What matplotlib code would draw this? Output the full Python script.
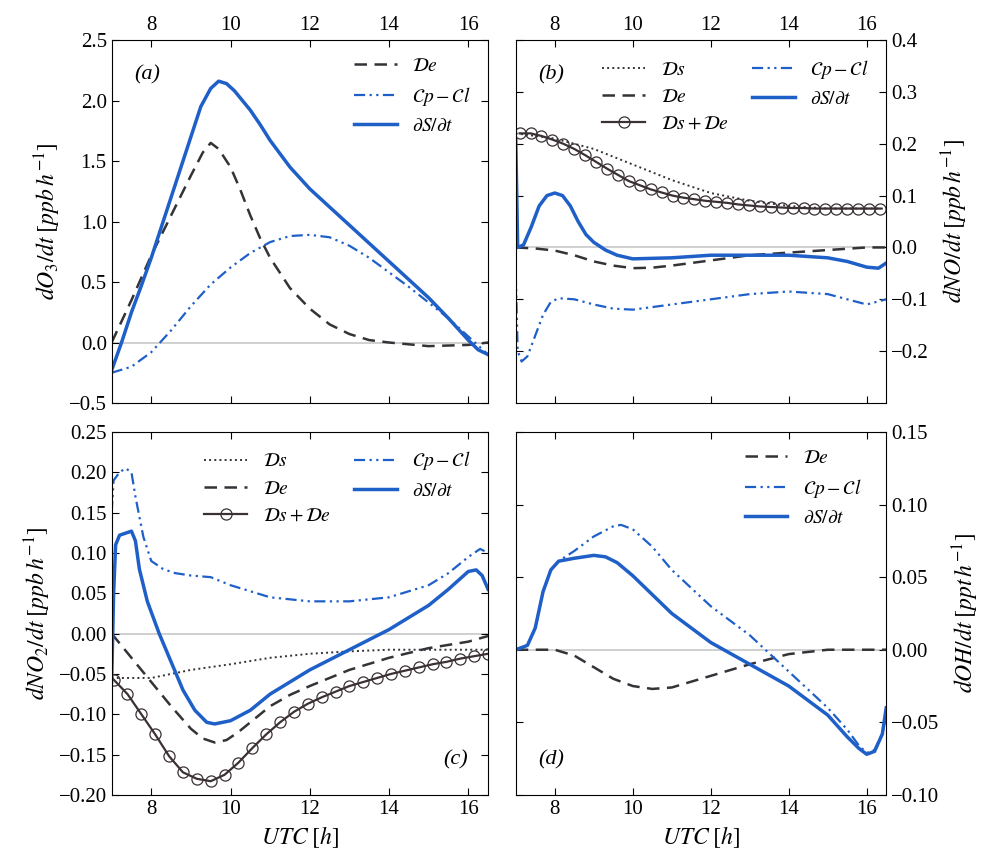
import numpy as np
import matplotlib
matplotlib.use("Agg")
import matplotlib.pyplot as plt

plt.rcParams['font.family'] = ['Liberation Serif', 'DejaVu Serif']
plt.rcParams['mathtext.fontset'] = 'stix'
plt.rcParams['font.size'] = 15

# ---- panel a (O3) ----
a_de_x = [7, 7.5, 8, 8.5, 9, 9.3, 9.5, 9.7, 10, 10.25, 10.5, 10.75, 11, 11.5, 12, 12.5, 13, 13.5, 14, 15, 16, 16.5]
a_de_y = [0.0, 0.35, 0.72, 1.05, 1.38, 1.57, 1.65, 1.6, 1.45, 1.26, 1.05, 0.86, 0.7, 0.45, 0.28, 0.15, 0.07, 0.02, 0.0, -0.03, -0.02, 0.0]
a_cp_x = [7, 7.5, 8, 8.5, 9, 9.5, 10, 10.5, 11, 11.5, 12, 12.5, 13, 13.5, 14, 14.5, 15, 15.5, 16, 16.5]
a_cp_y = [-0.25, -0.2, -0.08, 0.1, 0.3, 0.48, 0.62, 0.74, 0.83, 0.88, 0.89, 0.87, 0.8, 0.7, 0.58, 0.46, 0.33, 0.2, 0.05, -0.1]
a_ds_x = [7, 7.25, 7.5, 7.75, 8, 8.25, 8.5, 8.75, 9, 9.25, 9.5, 9.7, 9.9, 10.1, 10.3, 10.5, 10.75, 11, 11.5, 12, 12.5, 13,
          13.5, 14, 14.5, 15, 15.5, 16, 16.25, 16.5]
a_ds_y = [-0.23, 0.0, 0.25, 0.47, 0.7, 0.95, 1.2, 1.45, 1.7, 1.95, 2.1, 2.16, 2.14, 2.08, 2.0, 1.92, 1.8, 1.67, 1.45, 1.27,
          1.12, 0.97, 0.82, 0.67, 0.52, 0.37, 0.2, 0.02, -0.06, -0.1]

# ---- panel b (NO) ----
b_ds_x = [7, 8, 9, 10, 11, 12, 13, 14, 15, 16, 16.5]
b_ds_y = [0.22, 0.21, 0.19, 0.16, 0.13, 0.105, 0.09, 0.08, 0.075, 0.075, 0.075]
b_de_x = [7, 7.5, 8, 8.5, 9, 9.5, 10, 10.5, 11, 12, 13, 14, 15, 16, 16.5]
b_de_y = [0.0, -0.002, -0.006, -0.015, -0.027, -0.035, -0.04, -0.039, -0.035, -0.025, -0.015, -0.01, -0.005, 0.0, 0.0]
b_sum_x = [7.1, 7.38, 7.66, 7.94, 8.22, 8.5, 8.78, 9.06, 9.34, 9.62, 9.9, 10.18, 10.46, 10.74, 11.02, 11.3, 11.58,
           11.86, 12.14, 12.42, 12.7, 12.98, 13.26, 13.54, 13.82, 14.1, 14.38, 14.66, 14.94, 15.22, 15.5, 15.78, 16.06, 16.34]
b_sum_y = [0.22, 0.22, 0.215, 0.208, 0.2, 0.19, 0.178, 0.165, 0.152, 0.14, 0.128, 0.12, 0.112, 0.106, 0.1, 0.096, 0.093,
           0.09, 0.088, 0.086, 0.083, 0.081, 0.079, 0.078, 0.077, 0.076, 0.076, 0.075, 0.075, 0.075, 0.075, 0.075, 0.075, 0.075]
b_cp_x = [7, 7.05, 7.15, 7.3, 7.5, 7.7, 7.9, 8.1, 8.5, 9, 9.5, 10, 11, 12, 13, 14, 15, 16, 16.5]
b_cp_y = [-0.05, -0.2, -0.22, -0.21, -0.17, -0.13, -0.105, -0.098, -0.1, -0.11, -0.118, -0.12, -0.11, -0.1, -0.09, -0.085, -0.09, -0.11, -0.1]
b_dsdt_x = [7, 7.05, 7.2, 7.4, 7.6, 7.8, 8.0, 8.2, 8.4, 8.6, 8.8, 9.0, 9.3, 9.6, 10, 11, 12, 13, 14, 15, 15.5, 16, 16.3, 16.5]
b_dsdt_y = [0.21, 0.0, 0.005, 0.04, 0.08, 0.1, 0.105, 0.1, 0.08, 0.05, 0.025, 0.01, -0.005, -0.015, -0.022, -0.02, -0.015,
            -0.015, -0.015, -0.02, -0.027, -0.038, -0.04, -0.03]

# ---- panel c (NO2) ----
c_ds_x = [7, 8, 9, 10, 11, 12, 13, 14, 15, 16, 16.5]
c_ds_y = [-0.055, -0.055, -0.045, -0.038, -0.03, -0.025, -0.022, -0.02, -0.02, -0.02, -0.02]
c_de_x = [7, 7.5, 8, 8.5, 9, 9.3, 9.6, 9.9, 10.2, 10.5, 11, 11.5, 12, 13, 14, 15, 16, 16.5]
c_de_y = [0.0, -0.03, -0.06, -0.09, -0.118, -0.13, -0.135, -0.132, -0.122, -0.11, -0.09, -0.076, -0.065, -0.045, -0.03, -0.018, -0.01, -0.003]
c_sum_x = [7.05, 7.4, 7.75, 8.1, 8.45, 8.8, 9.15, 9.5, 9.85, 10.2, 10.55, 10.9, 11.25, 11.6, 11.95, 12.3, 12.65, 13.0,
           13.35, 13.7, 14.05, 14.4, 14.75, 15.1, 15.45, 15.8, 16.15, 16.5]
c_sum_y = [-0.057, -0.075, -0.1, -0.125, -0.152, -0.172, -0.18, -0.183, -0.175, -0.16, -0.142, -0.125, -0.11, -0.097, -0.087,
           -0.079, -0.072, -0.065, -0.06, -0.055, -0.05, -0.046, -0.042, -0.038, -0.035, -0.031, -0.028, -0.025]
c_cp_x = [7, 7.05, 7.2, 7.35, 7.5, 7.6, 7.8, 8, 8.3, 8.6, 9, 9.5, 10, 11, 12, 13, 14, 15, 15.5, 16, 16.3, 16.5]
c_cp_y = [0.15, 0.19, 0.2, 0.205, 0.2, 0.17, 0.12, 0.09, 0.08, 0.075, 0.072, 0.07, 0.06, 0.045, 0.04, 0.04, 0.045, 0.06, 0.075, 0.095, 0.105, 0.1]
c_dsdt_x = [7, 7.05, 7.1, 7.2, 7.5, 7.6, 7.7, 7.9, 8.2, 8.5, 8.8, 9.1, 9.4, 9.6, 10, 10.5, 11, 12, 13, 14, 15, 15.5, 16, 16.2, 16.35, 16.5]
c_dsdt_y = [-0.06, 0.05, 0.11, 0.122, 0.127, 0.115, 0.08, 0.04, 0.0, -0.035, -0.07, -0.095, -0.11, -0.112, -0.108, -0.095,
            -0.075, -0.045, -0.02, 0.005, 0.035, 0.055, 0.077, 0.079, 0.072, 0.055]

# ---- panel d (OH) ----
d_de_x = [7, 8, 8.5, 9, 9.5, 10, 10.5, 11, 11.5, 12, 13, 14, 15, 16, 16.5]
d_de_y = [0.0, 0.0, -0.004, -0.012, -0.02, -0.025, -0.027, -0.026, -0.022, -0.018, -0.01, -0.003, 0.0, 0.0, 0.0]
d_cp_x = [7, 7.3, 7.5, 7.7, 7.9, 8.1, 8.5, 9, 9.5, 9.7, 10, 10.5, 11, 12, 13, 14, 15, 15.5, 15.8, 16, 16.2, 16.4, 16.5]
d_cp_y = [0.0, 0.003, 0.015, 0.04, 0.055, 0.061, 0.068, 0.078, 0.085, 0.086, 0.083, 0.071, 0.055, 0.03, 0.01, -0.015, -0.04,
          -0.055, -0.066, -0.071, -0.069, -0.058, -0.045]
d_dsdt_x = [7, 7.3, 7.5, 7.7, 7.9, 8.1, 8.5, 9, 9.3, 9.6, 10, 10.5, 11, 12, 13, 14, 15, 15.5, 15.8, 16, 16.2, 16.4, 16.5]
d_dsdt_y = [0.0, 0.003, 0.015, 0.04, 0.055, 0.061, 0.063, 0.065, 0.064, 0.06, 0.051, 0.038, 0.025, 0.005, -0.01, -0.025,
            -0.045, -0.06, -0.068, -0.072, -0.07, -0.058, -0.04]

BLUE = '#1f5fc8'
DARK = '#333338'
L_DS = r'$\mathcal{D}s$'
L_DE = r'$\mathcal{D}e$'
L_SUM = r'$\mathcal{D}s+\mathcal{D}e$'
L_CP = r'$\mathcal{C}p-\mathcal{C}l$'
L_DT = r'$\partial S/\partial t$'

fig = plt.figure(figsize=(9.88, 8.52), dpi=100)
W, H = 0.381, 0.426
axa = fig.add_axes([0.113, 0.527, W, H])
axb = fig.add_axes([0.522, 0.527, 0.375, H])
axc = fig.add_axes([0.113, 0.067, W, H])
axd = fig.add_axes([0.522, 0.067, 0.375, H])

def style(ax, top, right):
    ax.set_xlim(7, 16.5)
    ax.axhline(0, color='#c8c8c8', lw=1.2, zorder=0)
    ax.tick_params(direction='in', top=True, right=True, labelsize=15, length=5)
    ax.set_xticks([8, 10, 12, 14, 16])
    if top:
        ax.tick_params(labeltop=True, labelbottom=False)
    else:
        ax.set_xlabel(r'$UTC\;[h]$', fontsize=17)
    if right:
        ax.tick_params(labelright=True, labelleft=False)
        ax.yaxis.set_label_position('right')

def dsp(ax, x, y):
    ax.plot(x, y, ':', color=DARK, lw=1.4, label=L_DS)
def dep(ax, x, y):
    ax.plot(x, y, '--', color=DARK, lw=1.8, dashes=(5, 3), label=L_DE)
def sump(ax, x, y):
    ax.plot(x, y, '-', color='#3a3035', lw=1.6, marker='o', ms=8, mfc='none', mec='#3a3035', mew=0.9, label=L_SUM)
def cpp(ax, x, y):
    ax.plot(x, y, color=BLUE, lw=1.6, dashes=(5, 2, 1, 2, 1, 2), label=L_CP)
def dtp(ax, x, y):
    ax.plot(x, y, '-', color=BLUE, lw=2.5, label=L_DT)

# a
style(axa, True, False)
dep(axa, a_de_x, a_de_y); cpp(axa, a_cp_x, a_cp_y); dtp(axa, a_ds_x, a_ds_y)
axa.set_ylim(-0.5, 2.5)
axa.set_yticks([-0.5, 0, 0.5, 1.0, 1.5, 2.0, 2.5])
axa.set_yticklabels(['\u22120.5', '0.0', '0.5', '1.0', '1.5', '2.0', '2.5'])
axa.set_ylabel(r'$dO_3/dt\;[ppb\,h^{-1}]$', fontsize=17)
axa.text(0.06, 0.93, '(a)', transform=axa.transAxes, style='italic', fontsize=16, va='top')
axa.legend(loc='upper right', frameon=False, fontsize=14, handlelength=2.2, bbox_to_anchor=(1.0, 1.0))

# b
style(axb, True, True)
dsp(axb, b_ds_x, b_ds_y); dep(axb, b_de_x, b_de_y); sump(axb, b_sum_x, b_sum_y)
cpp(axb, b_cp_x, b_cp_y); dtp(axb, b_dsdt_x, b_dsdt_y)
axb.set_ylim(-0.3, 0.4)
axb.set_yticks([-0.2, -0.1, 0, 0.1, 0.2, 0.3, 0.4])
axb.set_yticklabels(['\u22120.2', '\u22120.1', '0.0', '0.1', '0.2', '0.3', '0.4'])
axb.set_ylabel(r'$dNO/dt\;[ppb\,h^{-1}]$', fontsize=17, labelpad=8)
axb.text(0.06, 0.93, '(b)', transform=axb.transAxes, style='italic', fontsize=16, va='top')
axb.legend(loc='upper right', frameon=False, fontsize=14, ncol=2, handlelength=2.2, columnspacing=1.2, bbox_to_anchor=(1.0, 1.0))

# c
style(axc, False, False)
dsp(axc, c_ds_x, c_ds_y); dep(axc, c_de_x, c_de_y); sump(axc, c_sum_x, c_sum_y)
cpp(axc, c_cp_x, c_cp_y); dtp(axc, c_dsdt_x, c_dsdt_y)
axc.set_ylim(-0.2, 0.25)
ct = [-0.2, -0.15, -0.1, -0.05, 0, 0.05, 0.1, 0.15, 0.2, 0.25]
axc.set_yticks(ct)
axc.set_yticklabels([('%.2f' % v).replace('-', '\u2212') for v in ct])
axc.set_ylabel(r'$dNO_2/dt\;[ppb\,h^{-1}]$', fontsize=17)
axc.text(0.88, 0.07, '(c)', transform=axc.transAxes, style='italic', fontsize=16, va='bottom')
axc.legend(loc='upper right', frameon=False, fontsize=14, ncol=2, handlelength=2.2, columnspacing=1.2, bbox_to_anchor=(1.0, 1.0))

# d
style(axd, False, True)
dep(axd, d_de_x, d_de_y); cpp(axd, d_cp_x, d_cp_y); dtp(axd, d_dsdt_x, d_dsdt_y)
axd.set_ylim(-0.1, 0.15)
dt_ = [-0.1, -0.05, 0, 0.05, 0.1, 0.15]
axd.set_yticks(dt_)
axd.set_yticklabels([('%.2f' % v).replace('-', '\u2212') for v in dt_])
axd.set_ylabel(r'$dOH/dt\;[ppt\,h^{-1}]$', fontsize=17, labelpad=8)
axd.text(0.06, 0.07, '(d)', transform=axd.transAxes, style='italic', fontsize=16, va='bottom')
axd.legend(loc='upper right', frameon=False, fontsize=14, handlelength=2.2, bbox_to_anchor=(0.98, 1.0))

fig.savefig('out.png', dpi=100)
